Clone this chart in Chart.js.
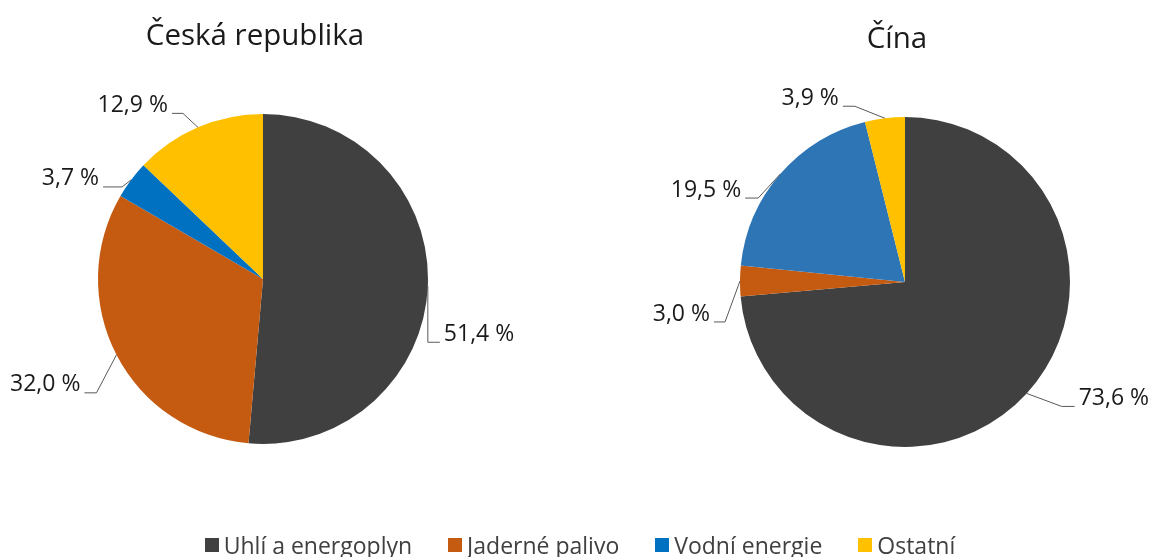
<!DOCTYPE html>
<html>
<head>
<meta charset="utf-8">
<script src="https://cdn.jsdelivr.net/npm/chart.js@4.4.1/dist/chart.umd.min.js"></script>
<style>
  body { margin: 0; background: #fff; }
  #wrap { position: relative; width: 1160px; height: 557px; overflow: hidden; font-family: "Open Sans", "Noto Sans", sans-serif; }
  canvas { position: absolute; left: 0; top: 0; }
  #legend { position: absolute; left: 0; right: 0; top: 529px; display: flex; justify-content: center; gap: 36px; font-size: 23px; color: #404040; }
  #legend span.item { display: flex; align-items: center; }
  #legend i { display: inline-block; width: 14px; height: 14px; margin-right: 5px; }
</style>
</head>
<body>
<div id="wrap">
  <canvas id="czChart" width="1160" height="557"></canvas>
  <canvas id="cnChart" width="1160" height="557"></canvas>
  <div id="legend"></div>
</div>
<script>
const categories = ["Uhlí a energoplyn", "Jaderné palivo", "Vodní energie", "Ostatní"];
const czValues = [51.4, 32.0, 3.7, 12.9];
const cnValues = [73.6, 3.0, 19.5, 3.9];
const czTitle = "Česká republika";
const cnTitle = "Čína";

const czColors = ["#404040", "#C55A11", "#0070C0", "#FFC000"];
const cnColors = ["#404040", "#C55A11", "#2E75B6", "#FFC000"];

// leader line elbows relative to the arc midpoint: [dx, dy, horizontal length (+ right / - left)]
const czLeaders = [[0, 56, 12], [-20, 38, -12], [-9, 7, -19], [-15, -14, -11]];
const cnLeaders = [[35, 13, 13], [-15, 41, -11], [-22, 24, -13], [-30, -12, -12]];

const fmt = (v) => v.toFixed(1).replace(".", ",") + " %";

const labelPlugin = {
  id: "pieLabels",
  afterDraw(chart) {
    const { ctx } = chart;
    const meta = chart.getDatasetMeta(0);
    const opts = chart.options.plugins.pieLabels;
    ctx.save();
    ctx.font = '23px "Open Sans", "Noto Sans", sans-serif';
    ctx.textBaseline = "middle";

    meta.data.forEach((arc, i) => {
      const mid = (arc.startAngle + arc.endAngle) / 2;
      const ax = arc.x + Math.cos(mid) * arc.outerRadius;
      const ay = arc.y + Math.sin(mid) * arc.outerRadius;
      const [dx, dy, len] = opts.leaders[i];
      const ex = ax + dx;
      const ey = ay + dy;
      ctx.strokeStyle = "#595959";
      ctx.lineWidth = 1;
      ctx.beginPath();
      ctx.moveTo(ax, ay);
      ctx.lineTo(ex, ey);
      ctx.lineTo(ex + len, ey);
      ctx.stroke();

      ctx.fillStyle = "#1a1a1a";
      ctx.textAlign = len > 0 ? "left" : "right";
      const tx = ex + len + (len > 0 ? 4 : -4);
      ctx.fillText(fmt(chart.data.datasets[0].data[i]), tx, ey - 8);
    });

    // chart title above the pie
    const arc0 = meta.data[0];
    ctx.font = '29.5px "Open Sans", "Noto Sans", sans-serif';
    ctx.textAlign = "center";
    ctx.fillStyle = "#1a1a1a";
    ctx.fillText(opts.title, arc0.x - 8, arc0.y - arc0.outerRadius - 77);
    ctx.restore();
  },
};

function makePie(id, values, colors, leaders, title, pad) {
  return new Chart(document.getElementById(id), {
    type: "pie",
    data: {
      labels: categories,
      datasets: [{ data: values, backgroundColor: colors, borderWidth: 0 }],
    },
    options: {
      responsive: false,
      animation: false,
      layout: { padding: pad },
      plugins: {
        legend: { display: false },
        tooltip: { enabled: false },
        pieLabels: { leaders: leaders, title: title },
      },
    },
    plugins: [labelPlugin],
  });
}

makePie("czChart", czValues, czColors, czLeaders, czTitle, { left: 98, right: 732, top: 114, bottom: 113 });
makePie("cnChart", cnValues, cnColors, cnLeaders, cnTitle, { left: 740, right: 90, top: 117, bottom: 110 });

const legend = document.getElementById("legend");
categories.forEach((c, i) => {
  const item = document.createElement("span");
  item.className = "item";
  item.innerHTML = `<i style="background:${czColors[i]}"></i>${c}`;
  legend.appendChild(item);
});
</script>
</body>
</html>
